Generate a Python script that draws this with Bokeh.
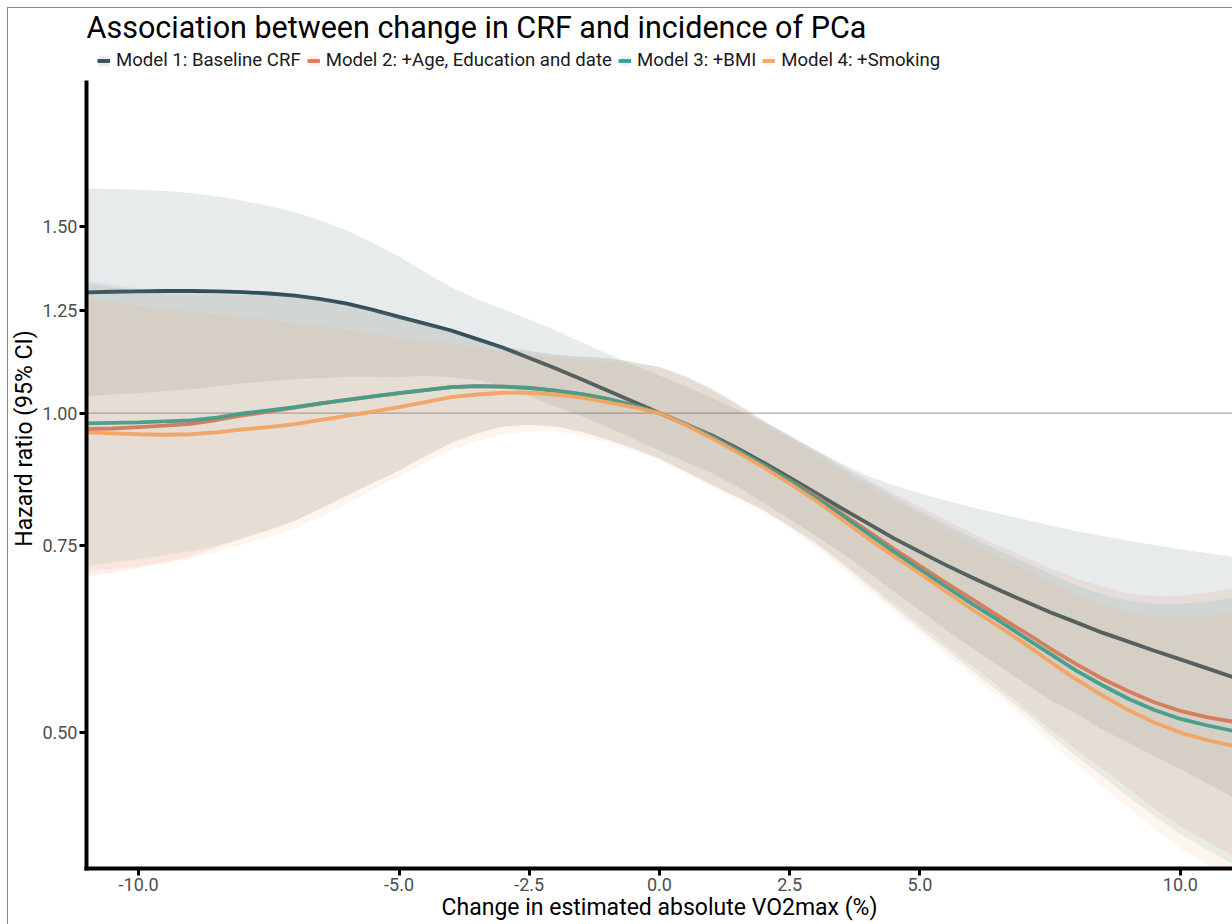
from bokeh.plotting import figure
from bokeh.models import Range1d, FixedTicker, PrintfTickFormatter, Legend, LegendItem, Span, Label
from bokeh.embed import file_html
from bokeh.resources import INLINE

# ---------------- data ----------------
x_vals = [-11, -10.5, -10, -9.5, -9, -8.5, -8, -7.5, -7, -6.5, -6, -5.5, -5, -4.5, -4, -3.5,
          -3, -2.5, -2, -1.5, -1, -0.5, 0, 0.5, 1, 1.5, 2, 2.5, 3, 3.5, 4, 4.5, 5, 5.5,
          6, 6.5, 7, 7.5, 8, 8.5, 9, 9.5, 10, 10.5, 11]

title_text = "Association between change in CRF and incidence of PCa"
model_names = ["Model 1: Baseline CRF", "Model 2: +Age, Education and date",
               "Model 3: +BMI", "Model 4: +Smoking"]
model_colors = ["#264653", "#e76f51", "#2a9d8f", "#f4a261"]

m1_hr = [1.299, 1.301, 1.302, 1.303, 1.303, 1.302, 1.300, 1.296, 1.290, 1.280, 1.268, 1.251,
         1.232, 1.214, 1.196, 1.174, 1.152, 1.127, 1.102, 1.076, 1.050, 1.025, 1.000, 0.976,
         0.953, 0.926, 0.898, 0.869, 0.841, 0.813, 0.787, 0.762, 0.740, 0.719, 0.700, 0.682,
         0.665, 0.649, 0.635, 0.621, 0.609, 0.597, 0.586, 0.575, 0.564]
m1_hi = [1.627, 1.626, 1.623, 1.619, 1.612, 1.600, 1.585, 1.567, 1.546, 1.518, 1.486, 1.447,
         1.404, 1.357, 1.314, 1.280, 1.252, 1.225, 1.197, 1.166, 1.137, 1.110, 1.085, 1.060,
         1.034, 1.007, 0.980, 0.951, 0.923, 0.896, 0.873, 0.855, 0.840, 0.827, 0.815, 0.804,
         0.794, 0.784, 0.774, 0.766, 0.758, 0.751, 0.744, 0.738, 0.732]
m1_lo = [1.037, 1.041, 1.044, 1.049, 1.053, 1.060, 1.066, 1.072, 1.076, 1.079, 1.082, 1.082,
         1.081, 1.084, 1.081, 1.074, 1.060, 1.037, 1.015, 0.993, 0.970, 0.946, 0.922, 0.899,
         0.878, 0.852, 0.823, 0.794, 0.766, 0.738, 0.709, 0.679, 0.652, 0.625, 0.601, 0.578,
         0.557, 0.537, 0.521, 0.503, 0.489, 0.475, 0.462, 0.448, 0.435]

m2_hr = [0.966, 0.967, 0.970, 0.973, 0.977, 0.985, 0.995, 1.003, 1.012, 1.021, 1.029, 1.037,
         1.044, 1.051, 1.058, 1.060, 1.059, 1.056, 1.050, 1.042, 1.031, 1.017, 1.000, 0.977,
         0.950, 0.922, 0.893, 0.864, 0.835, 0.804, 0.774, 0.745, 0.718, 0.692, 0.668, 0.644,
         0.622, 0.600, 0.580, 0.562, 0.547, 0.534, 0.524, 0.517, 0.512]
m2_hi = [1.325, 1.313, 1.303, 1.296, 1.293, 1.293, 1.292, 1.292, 1.289, 1.280, 1.265, 1.251,
         1.234, 1.215, 1.194, 1.172, 1.155, 1.144, 1.135, 1.130, 1.126, 1.117, 1.105, 1.083,
         1.054, 1.020, 0.984, 0.953, 0.923, 0.893, 0.866, 0.840, 0.816, 0.793, 0.771, 0.750,
         0.732, 0.714, 0.698, 0.686, 0.676, 0.672, 0.673, 0.677, 0.684]
m2_lo = [0.701, 0.707, 0.715, 0.723, 0.733, 0.747, 0.763, 0.776, 0.791, 0.813, 0.836, 0.859,
         0.883, 0.910, 0.937, 0.957, 0.971, 0.975, 0.971, 0.960, 0.944, 0.926, 0.905, 0.881,
         0.856, 0.833, 0.810, 0.783, 0.756, 0.724, 0.692, 0.661, 0.632, 0.604, 0.578, 0.553,
         0.528, 0.504, 0.482, 0.462, 0.443, 0.424, 0.408, 0.395, 0.383]

m3_hr = [0.978, 0.979, 0.980, 0.982, 0.984, 0.990, 0.999, 1.006, 1.013, 1.021, 1.029, 1.037,
         1.044, 1.051, 1.058, 1.060, 1.059, 1.056, 1.050, 1.042, 1.031, 1.017, 1.000, 0.976,
         0.950, 0.922, 0.893, 0.863, 0.832, 0.801, 0.770, 0.740, 0.712, 0.686, 0.661, 0.638,
         0.615, 0.593, 0.572, 0.554, 0.538, 0.525, 0.515, 0.508, 0.502]
m3_hi = [1.333, 1.320, 1.310, 1.303, 1.299, 1.297, 1.295, 1.294, 1.290, 1.280, 1.265, 1.251,
         1.234, 1.215, 1.194, 1.172, 1.155, 1.144, 1.135, 1.130, 1.126, 1.117, 1.105, 1.083,
         1.054, 1.020, 0.984, 0.952, 0.920, 0.889, 0.861, 0.834, 0.809, 0.785, 0.763, 0.743,
         0.724, 0.706, 0.688, 0.675, 0.665, 0.661, 0.661, 0.664, 0.670]
m3_lo = [0.717, 0.723, 0.728, 0.735, 0.741, 0.750, 0.761, 0.776, 0.792, 0.813, 0.836, 0.859,
         0.883, 0.910, 0.937, 0.957, 0.971, 0.975, 0.971, 0.960, 0.944, 0.926, 0.905, 0.880,
         0.856, 0.833, 0.810, 0.782, 0.753, 0.721, 0.688, 0.656, 0.626, 0.599, 0.572, 0.547,
         0.523, 0.498, 0.475, 0.455, 0.435, 0.417, 0.401, 0.388, 0.376]

m4_hr = [0.959, 0.957, 0.955, 0.954, 0.955, 0.959, 0.965, 0.970, 0.976, 0.985, 0.994, 1.003,
         1.013, 1.024, 1.035, 1.041, 1.045, 1.045, 1.041, 1.034, 1.024, 1.013, 1.000, 0.975,
         0.947, 0.918, 0.889, 0.858, 0.827, 0.794, 0.762, 0.733, 0.706, 0.679, 0.653, 0.630,
         0.607, 0.583, 0.561, 0.542, 0.525, 0.511, 0.500, 0.492, 0.486]
m4_hi = [1.285, 1.272, 1.262, 1.253, 1.245, 1.239, 1.232, 1.224, 1.216, 1.207, 1.198, 1.188,
         1.177, 1.169, 1.162, 1.152, 1.143, 1.135, 1.128, 1.123, 1.118, 1.112, 1.105, 1.081,
         1.051, 1.016, 0.980, 0.946, 0.914, 0.882, 0.852, 0.826, 0.802, 0.778, 0.754, 0.734,
         0.714, 0.694, 0.675, 0.660, 0.649, 0.643, 0.642, 0.644, 0.649]
m4_lo = [0.710, 0.713, 0.718, 0.722, 0.729, 0.740, 0.752, 0.764, 0.779, 0.799, 0.822, 0.846,
         0.872, 0.897, 0.922, 0.941, 0.955, 0.961, 0.961, 0.952, 0.938, 0.922, 0.905, 0.880,
         0.853, 0.830, 0.807, 0.778, 0.748, 0.715, 0.681, 0.650, 0.621, 0.593, 0.565, 0.541,
         0.516, 0.490, 0.466, 0.445, 0.425, 0.406, 0.389, 0.376, 0.364]

x_ticks = [-10, -5, -2.5, 0, 2.5, 5, 10]
y_ticks = [0.50, 0.75, 1.00, 1.25, 1.50]

FONT = "Roboto"

# ---------------- figure ----------------
# frame spans the full height above the x axis; the y axis line is bounded like the reference
p = figure(width=1224, height=916, output_backend="svg", toolbar_location=None, title=None,
           y_axis_type="log",
           x_range=Range1d(-11, 11), y_range=Range1d(0.3723, 2.405),
           min_border_left=78, min_border_right=0, min_border_top=0, min_border_bottom=56,
           background_fill_color="white", border_fill_color="white")
p.margin = (8, 0, 0, 8)
p.styles = {"outline": "1px solid #8a8a8a"}
p.outline_line_color = None
p.grid.visible = False

title_lbl = Label(x=0, y=841, x_units="screen", y_units="screen", text=title_text,
                  text_font=FONT, text_font_size="30.5px", text_color="black",
                  text_align="left", text_baseline="alphabetic")
p.add_layout(title_lbl)

ref = Span(location=1.0, dimension="width", line_color="#a8a8a8", line_width=1.2, level="underlay")
p.add_layout(ref)

series = [(m1_hr, m1_lo, m1_hi), (m2_hr, m2_lo, m2_hi), (m3_hr, m3_lo, m3_hi), (m4_hr, m4_lo, m4_hi)]
items = []
for name, col, (hr, lo, hi) in zip(model_names, model_colors, series):
    band = p.varea(x=x_vals, y1=lo, y2=hi, fill_color=col, fill_alpha=0.11)
    ln = p.line(x=x_vals, y=hr, line_color=col, line_width=3.8, line_alpha=0.95)
    items.append(LegendItem(label=name, renderers=[band, ln]))

legend = Legend(items=items, orientation="horizontal", location=(11, 797),
                glyph_width=13, glyph_height=13, label_standoff=6, spacing=6,
                padding=0, margin=0, label_text_font=FONT, label_text_font_size="18.6px",
                label_text_color="#1a1a1a", border_line_color=None, background_fill_alpha=0,
                label_height=13)
p.add_layout(legend, "center")

# axes
for ax in (p.xaxis[0], p.yaxis[0]):
    ax.axis_line_width = 4
    ax.axis_line_color = "black"
    ax.axis_line_cap = "square"
    ax.major_tick_line_width = 3
    ax.major_tick_line_color = "black"
    ax.major_tick_out = 7
    ax.major_tick_in = 0
    ax.minor_tick_line_color = None
    ax.major_label_text_font = FONT
    ax.major_label_text_font_size = "18px"
    ax.major_label_text_color = "#4d4d4d"
    ax.axis_label_text_font = FONT
    ax.axis_label_text_font_size = "23px"
    ax.axis_label_text_font_style = "normal"
    ax.axis_label_text_color = "black"

p.xaxis.ticker = FixedTicker(ticks=x_ticks)
p.xaxis.formatter = PrintfTickFormatter(format="%.1f")
p.xaxis.axis_label = "Change in estimated absolute VO2max (%)"
p.xaxis.major_label_standoff = 2
p.xaxis.axis_label_standoff = 0

p.yaxis.ticker = FixedTicker(ticks=y_ticks)
p.yaxis.formatter = PrintfTickFormatter(format="%.2f")
p.yaxis.axis_label = "Hazard ratio (95% CI)"
p.yaxis.major_label_standoff = 2
p.yaxis.axis_label_standoff = 1
p.yaxis.bounds = (0.3723, 2.05)

open("out.html", "w").write(file_html(p, INLINE))
